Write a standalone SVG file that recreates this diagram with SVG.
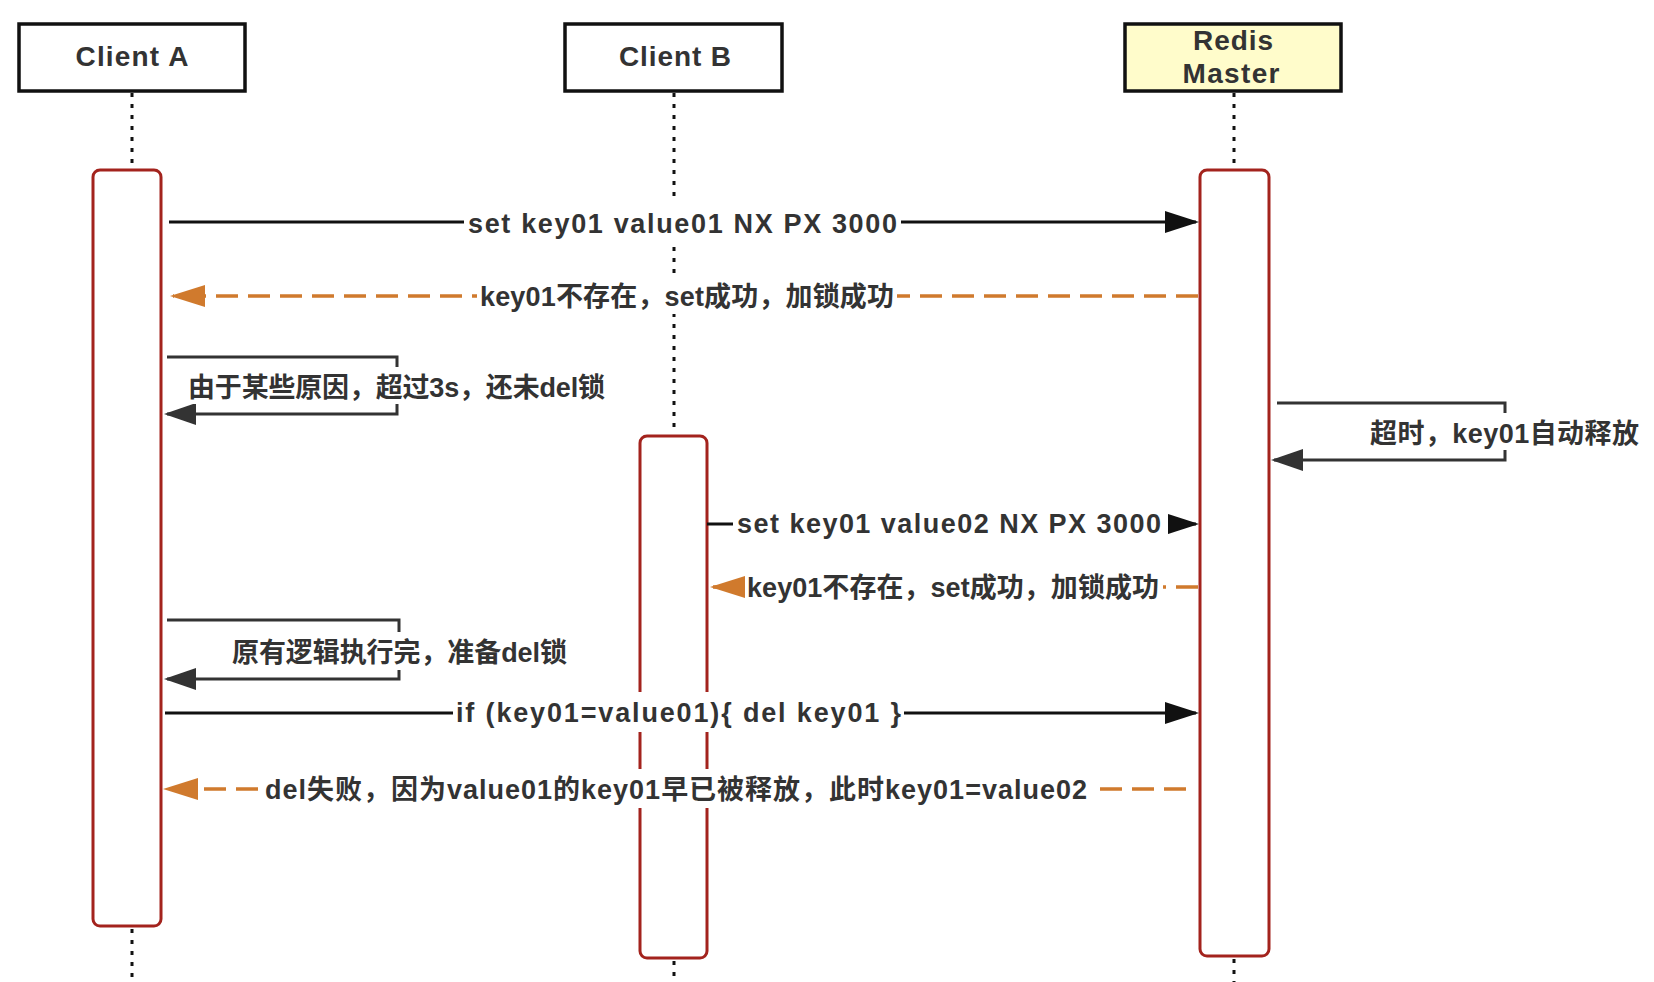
<svg xmlns="http://www.w3.org/2000/svg" width="1654" height="982" viewBox="0 0 1654 982">
<style>
.head{stroke:#111;stroke-width:3.5}
.title{font-family:"Liberation Sans","Noto Sans CJK SC",sans-serif;font-weight:bold;font-size:28px;fill:#333;text-anchor:middle}
.life{stroke:#111;stroke-width:3;stroke-dasharray:4 7;fill:none}
.act{fill:#fff;stroke:#A3231D;stroke-width:3}
.msg{stroke:#111;stroke-width:3;fill:none}
.self{stroke:#333;stroke-width:3;fill:none}
.ret{stroke:#D07A2D;stroke-width:3.5;stroke-dasharray:22 10;fill:none}
.lbl{font-family:"Liberation Sans","Noto Sans CJK SC",sans-serif;font-weight:bold;font-size:27px;fill:#333}
.bg{fill:#fff}
</style>
<defs>
<marker id="ahBlack" markerUnits="userSpaceOnUse" markerWidth="34" markerHeight="22" refX="31" refY="11" orient="auto"><path d="M0,0 L34,11 L0,22 z" fill="#111"/></marker>
<marker id="ahGray" markerUnits="userSpaceOnUse" markerWidth="32" markerHeight="22" refX="29" refY="11" orient="auto"><path d="M0,0 L32,11 L0,22 z" fill="#333"/></marker>
<marker id="ahOrange" markerUnits="userSpaceOnUse" markerWidth="35" markerHeight="22" refX="32" refY="11" orient="auto"><path d="M0,0 L35,11 L0,22 z" fill="#D07A2D"/></marker>
</defs>
<rect width="1654" height="982" fill="#fff"/>

<g id="client-a">
<rect class="head" x="19" y="24" width="226" height="67" fill="#fff"/>
<text class="title" x="132" y="66" textLength="113">Client A</text>
<line class="life" x1="132" y1="93" x2="132" y2="168"/>
<line class="life" x1="132" y1="929" x2="132" y2="982"/>
<rect class="act" x="93" y="170" width="68" height="756" rx="7"/>
</g>

<g id="client-b">
<rect class="head" x="565" y="24" width="217" height="67" fill="#fff"/>
<text class="title" x="675" y="66" textLength="112">Client B</text>
<line class="life" x1="674" y1="93" x2="674" y2="434"/>
<line class="life" x1="674" y1="961" x2="674" y2="982"/>
<rect class="act" x="640" y="436" width="67" height="522" rx="7"/>
</g>

<g id="redis-master">
<rect class="head" x="1125" y="24" width="216" height="67" fill="#FFFCCB"/>
<text class="title" x="1233" y="50" textLength="80">Redis</text>
<text class="title" x="1231" y="83" textLength="97">Master</text>
<line class="life" x1="1234" y1="93" x2="1234" y2="168"/>
<line class="life" x1="1234" y1="959" x2="1234" y2="982"/>
<rect class="act" x="1200" y="170" width="69" height="786" rx="7"/>
</g>

<g id="connectors">
<line class="msg" x1="169" y1="222" x2="1196" y2="222" marker-end="url(#ahBlack)"/>
<rect class="bg" x="464" y="203" width="437" height="40"/>
<text class="lbl" x="468" y="233" textLength="429">set key01 value01 NX PX 3000</text>

<line class="ret" x1="1198" y1="296" x2="173" y2="296" marker-end="url(#ahOrange)"/>
<rect class="bg" x="477" y="276" width="420" height="38"/>
<text class="lbl" x="480" y="306" textLength="414">key01不存在，set成功，加锁成功</text>

<path class="self" d="M167,357 H397 V414 H167" marker-end="url(#ahGray)"/>
<rect class="bg" x="185" y="367" width="423" height="37"/>
<text class="lbl" x="188" y="397" textLength="417">由于某些原因，超过3s，还未del锁</text>

<path class="self" d="M1277,403 H1505 V460 H1274" marker-end="url(#ahGray)"/>
<rect class="bg" x="1367" y="413" width="280" height="37"/>
<text class="lbl" x="1370" y="443" textLength="269">超时，key01自动释放</text>

<line class="msg" x1="707" y1="524" x2="1196" y2="524" marker-end="url(#ahBlack)"/>
<rect class="bg" x="733" y="503" width="435" height="40"/>
<text class="lbl" x="737" y="533" textLength="424">set key01 value02 NX PX 3000</text>

<line class="ret" x1="1198" y1="587" x2="713" y2="587" marker-end="url(#ahOrange)"/>
<rect class="bg" x="745" y="567" width="418" height="38"/>
<text class="lbl" x="747" y="597" textLength="412">key01不存在，set成功，加锁成功</text>

<path class="self" d="M167,620 H399 V679 H167" marker-end="url(#ahGray)"/>
<rect class="bg" x="229" y="632" width="341" height="38"/>
<text class="lbl" x="232" y="662" textLength="335">原有逻辑执行完，准备del锁</text>

<line class="msg" x1="165" y1="713" x2="1196" y2="713" marker-end="url(#ahBlack)"/>
<rect class="bg" x="453" y="692" width="451" height="40"/>
<text class="lbl" x="456" y="722" textLength="445">if (key01=value01){ del key01 }</text>

<line class="ret" x1="1186" y1="789" x2="166" y2="789" marker-end="url(#ahOrange)"/>
<rect class="bg" x="262" y="769" width="828" height="39"/>
<text class="lbl" x="265" y="799" textLength="822">del失败，因为value01的key01早已被释放，此时key01=value02</text>
</g>
</svg>
